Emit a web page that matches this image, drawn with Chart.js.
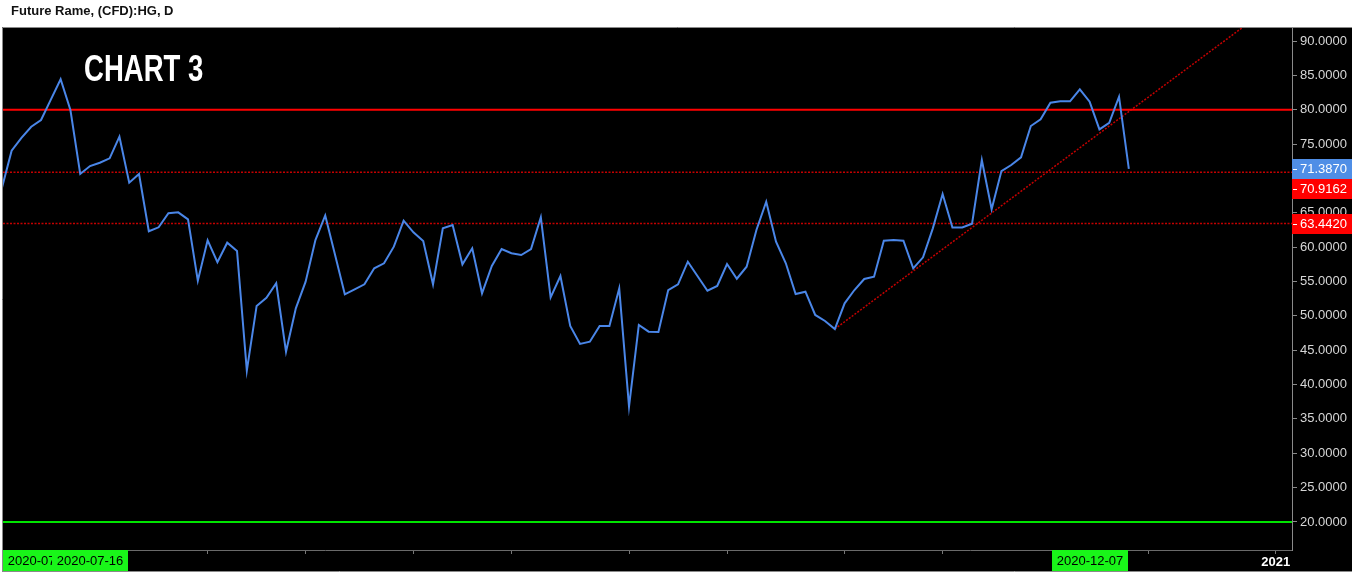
<!DOCTYPE html>
<html>
<head>
<meta charset="utf-8">
<title>Future Rame, (CFD):HG, D</title>
<script src="https://cdn.jsdelivr.net/npm/chart.js@4.4.1/dist/chart.umd.min.js"></script>
<style>
  html, body { margin: 0; padding: 0; background: #fff; }
  #wrap { position: relative; width: 1352px; height: 573px; overflow: hidden; }
  #chart { position: absolute; left: 0; top: 0; }
  #head { position: absolute; left: 11px; top: 3px; font: bold 13px "Liberation Sans", Arial, sans-serif; color: #111; }
  #tag { position: absolute; left: 84px; top: 48px; font: bold 36px "Liberation Sans", Arial, sans-serif; color: #fff;
         transform: scaleX(0.765); transform-origin: 0 0; white-space: nowrap; }
</style>
</head>
<body>
<div id="wrap">
  <canvas id="chart" width="1352" height="573"></canvas>
  <div id="head">Future Rame, (CFD):HG, D</div>
  <div id="tag">CHART 3</div>
</div>
<script>
/* price series, one value per trading day (index 0 = 2020-07-03) */
const prices = [
  68.57, 74.04, 75.9, 77.53, 78.51, 81.47, 84.43, 79.96, 70.65, 71.81,
  72.29, 72.93, 76.08, 69.38, 70.65, 62.31, 62.89, 64.93, 65.07, 64.05,
  55.12, 61.0, 57.8, 60.65, 59.44, 42.02, 51.44, 52.64, 54.74, 44.79,
  51.1, 54.97, 61.04, 64.61, 58.9, 53.14, 53.87, 54.59, 56.92, 57.65,
  60.07, 63.85, 62.16, 60.9, 54.59, 62.74, 63.22, 57.5, 59.83, 53.28,
  57.26, 59.73, 59.11, 58.86, 59.73, 64.35, 52.7, 55.8, 48.53, 45.91,
  46.24, 48.53, 48.53, 54.01, 36.8, 48.67, 47.7, 47.65, 53.76, 54.59,
  57.88, 55.77, 53.66, 54.35, 57.55, 55.41, 57.16, 62.5, 66.62, 60.79,
  57.65, 53.18, 53.52, 50.13, 49.25, 48.09, 51.83, 53.76, 55.37, 55.7,
  60.94, 61.04, 60.94, 56.92, 58.52, 62.74, 67.74, 62.86, 62.86, 63.4,
  72.69, 65.51, 71.08, 71.96, 73.08, 77.63, 78.61, 81.02, 81.23, 81.23,
  82.97, 81.17, 77.15, 78.11, 81.9, 71.387
];

const yTickValues = [20, 25, 30, 35, 40, 45, 50, 55, 60, 65, 70, 75, 80, 85, 90];
const xTickIdx = [9, 21, 31, 42, 52, 64, 74, 86, 96, 111, 117, 130];
const yearTickIdx = 130;
const yearTickLabel = '2021';

const resistance = 80;          // solid red
const dottedLevels = [70.9162, 63.442];
const support = 20;             // green
const trendX = [85, 128];
const trendY = [48.09, 93.45];

const axisMarks = [71.387, 70.9162, 63.442];
const dateMarkIdx = [0, 9, 111];
const dateMarkText = ['2020-07-03', '2020-07-16', '2020-12-07'];

const X_MIN = 0.12, X_MAX = 131.65;
const Y_MIN = 15.92, Y_MAX = 91.9;

function hline(v) {
  return [{ x: X_MIN, y: v }, { x: X_MAX, y: v }];
}

const FONT = '"Liberation Sans", Arial, sans-serif';
const DOT_RED = '#c40000';

const backdrop = {
  id: 'backdrop',
  beforeDraw(chart) {
    const c = chart.ctx;
    c.save();
    c.fillStyle = '#fff';
    c.fillRect(0, 0, chart.width, chart.height);
    c.fillStyle = '#000';
    c.fillRect(2, 27, chart.width - 2, chart.height - 29);
    c.strokeStyle = '#8a8a8a';
    c.lineWidth = 1;
    c.beginPath();
    c.moveTo(2.5, chart.height - 1.5);
    c.lineTo(2.5, 27.5);
    c.lineTo(chart.width, 27.5);
    c.moveTo(2, chart.height - 1.5);
    c.lineTo(chart.width, chart.height - 1.5);
    c.stroke();
    c.restore();
  }
};

const marks = {
  id: 'marks',
  afterDraw(chart) {
    const c = chart.ctx;
    const ys = chart.scales.y, xs = chart.scales.x;
    const left = chart.chartArea.right;
    c.save();
    c.font = '13px ' + FONT;
    c.textBaseline = 'middle';
    c.textAlign = 'left';
    let prevBottom = -1e9;
    axisMarks.forEach((v, i) => {
      const y = ys.getPixelForValue(v);
      let top = Math.round(y - 10);
      if (top < prevBottom) top = prevBottom;
      c.fillStyle = i === 0 ? '#4f8ee6' : '#ff0000';
      c.fillRect(left, top, chart.width - left, 20);
      c.strokeStyle = '#fff';
      c.beginPath();
      c.moveTo(left + 1, top + 10.5);
      c.lineTo(left + 5, top + 10.5);
      c.stroke();
      c.fillStyle = '#fff';
      c.fillText(v.toFixed(4), left + 8, top + 10.5);
      prevBottom = top + 20;
    });

    // crosshair date labels under the time axis
    const bTop = chart.chartArea.bottom;
    c.textAlign = 'center';
    dateMarkIdx.forEach((idx, i) => {
      const px = xs.getPixelForValue(idx);
      let l = Math.round(px - 38);
      if (l < 3) l = 3;
      c.fillStyle = '#19f519';
      c.fillRect(l, bTop, 76, 21);
      c.fillStyle = '#000';
      c.fillText(dateMarkText[i], l + 38, bTop + 11.5);
    });
    c.restore();
  }
};

const ctx = document.getElementById('chart');
new Chart(ctx, {
  type: 'line',
  data: {
    datasets: [
      {
        data: prices.map((v, i) => ({ x: i, y: v })),
        borderColor: '#4a86e8',
        borderWidth: 2,
        pointRadius: 0,
        tension: 0
      },
      {
        data: hline(resistance),
        borderColor: '#ff0000',
        borderWidth: 2,
        pointRadius: 0
      },
      {
        data: hline(dottedLevels[0]),
        borderColor: DOT_RED,
        borderWidth: 1.5,
        borderDash: [2, 1.5],
        pointRadius: 0
      },
      {
        data: hline(dottedLevels[1]),
        borderColor: DOT_RED,
        borderWidth: 1.5,
        borderDash: [2, 1.5],
        pointRadius: 0
      },
      {
        data: hline(support),
        borderColor: '#00e400',
        borderWidth: 2,
        pointRadius: 0
      },
      {
        data: trendX.map((x, i) => ({ x: x, y: trendY[i] })),
        borderColor: DOT_RED,
        borderWidth: 1.5,
        borderDash: [2, 1.5],
        pointRadius: 0
      }
    ]
  },
  options: {
    responsive: false,
    animation: false,
    devicePixelRatio: 1,
    layout: { padding: { top: 28, left: 3, right: 0, bottom: 0 } },
    plugins: {
      legend: { display: false },
      title: { display: false },
      tooltip: { enabled: false }
    },
    scales: {
      x: {
        type: 'linear',
        min: X_MIN,
        max: X_MAX,
        afterBuildTicks: (s) => { s.ticks = xTickIdx.map(v => ({ value: v })); },
        afterFit: (s) => { s.height = 23; },
        grid: { drawOnChartArea: false, color: '#777', tickLength: 4 },
        border: { color: '#6a6a6a' },
        ticks: {
          autoSkip: false,
          maxRotation: 0,
          color: '#fff',
          padding: 1,
          font: { family: FONT, size: 13, weight: 'bold' },
          callback: (v) => (v === yearTickIdx ? yearTickLabel : '')
        }
      },
      y: {
        position: 'right',
        min: Y_MIN,
        max: Y_MAX,
        afterBuildTicks: (s) => { s.ticks = yTickValues.map(v => ({ value: v })); },
        afterFit: (s) => { s.width = 60; },
        grid: { drawOnChartArea: false, color: '#8a8a8a', tickLength: 5 },
        border: { color: '#8a8a8a' },
        ticks: {
          color: '#d6d6d6',
          padding: 3,
          font: { family: FONT, size: 13 },
          callback: (v) => v.toFixed(4)
        }
      }
    }
  },
  plugins: [backdrop, marks]
});
</script>
</body>
</html>
